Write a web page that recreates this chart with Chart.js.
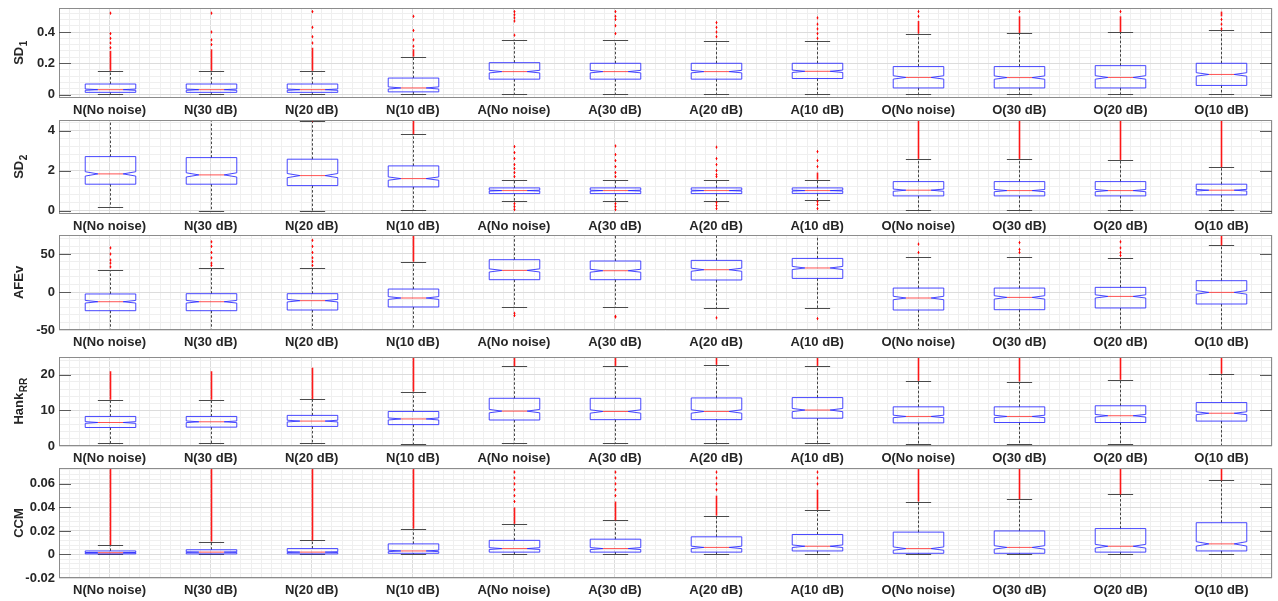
<!DOCTYPE html>
<html>
<head>
<meta charset="utf-8">
<script src="https://cdn.jsdelivr.net/npm/chart.js@4.4.1/dist/chart.umd.min.js"></script>
<style>
  html, body { margin: 0; padding: 0; background: #ffffff; }
  body { position: relative; width: 1278px; height: 601px; overflow: hidden; }
  canvas { position: absolute; left: 0; }
</style>
</head>
<body>
<script>
// Signal groups shown on every panel
const categories = ['N(No noise)', 'N(30 dB)', 'N(20 dB)', 'N(10 dB)',
                    'A(No noise)', 'A(30 dB)', 'A(20 dB)', 'A(10 dB)',
                    'O(No noise)', 'O(30 dB)', 'O(20 dB)', 'O(10 dB)'];
// Records per group (sets the notch height: 1.57 * IQR / sqrt(n))
const groupSize = 400;

// ---- SD1 ----
const sd1Ticks = [0, 0.2, 0.4];
const sd1Q1  = [0.016, 0.016, 0.016, 0.019, 0.100, 0.100, 0.100, 0.104, 0.044, 0.044, 0.044, 0.060];
const sd1Med = [0.033, 0.033, 0.033, 0.044, 0.148, 0.148, 0.148, 0.150, 0.111, 0.110, 0.111, 0.130];
const sd1Q3  = [0.069, 0.069, 0.069, 0.107, 0.205, 0.201, 0.201, 0.201, 0.180, 0.180, 0.186, 0.201];
const sd1Lo  = [0.006, 0.006, 0.006, 0.006, 0.006, 0.006, 0.006, 0.006, 0.006, 0.006, 0.006, 0.006];
const sd1Hi  = [0.153, 0.153, 0.153, 0.243, 0.352, 0.348, 0.340, 0.340, 0.390, 0.394, 0.400, 0.410];
// outliers: single values, or [from, to] for a dense run
const sd1Out = [
  [[0.153, 0.28], 0.30, 0.33, 0.36, 0.39, 0.52],
  [[0.153, 0.29], 0.32, 0.35, 0.40, 0.52],
  [[0.153, 0.30], 0.33, 0.37, 0.43, 0.53],
  [[0.243, 0.29], 0.31, 0.35, 0.41, 0.50],
  [0.38, 0.47, 0.49, 0.51, 0.53],
  [0.39, 0.44, 0.48, 0.50, 0.53],
  [0.37, 0.40, 0.43, 0.46],
  [0.36, 0.39, 0.42, 0.45, 0.49],
  [[0.390, 0.47], 0.50, 0.53],
  [[0.394, 0.50], 0.53],
  [[0.400, 0.50], 0.53],
  [0.42, 0.45, 0.48, [0.50, 0.53]]
];

// ---- SD2 ----
const sd2Ticks = [0, 2, 4];
const sd2Q1  = [1.32, 1.32, 1.25, 1.185, 0.85, 0.85, 0.85, 0.86, 0.735, 0.735, 0.735, 0.785];
const sd2Med = [1.835, 1.785, 1.75, 1.60, 1.0, 1.0, 1.0, 1.0, 1.02, 1.0, 1.0, 1.02];
const sd2Q3  = [2.70, 2.65, 2.57, 2.235, 1.135, 1.135, 1.135, 1.135, 1.45, 1.45, 1.45, 1.32];
const sd2Lo  = [0.185, 0.0, 0.0, 0.02, 0.485, 0.47, 0.485, 0.535, 0.02, 0.02, 0.02, 0.02];
const sd2Hi  = [4.7, 4.7, 4.50, 3.82, 1.535, 1.52, 1.535, 1.52, 2.585, 2.585, 2.535, 2.17];
const sd2Out = [
  [], [], [4.52],
  [[3.82, 4.6]],
  [1.7, 1.9, 2.1, 2.3, 2.6, 2.9, 3.2, 0.35, 0.2, 0.05],
  [1.7, 1.9, 2.2, 2.5, 2.8, 3.23, 0.35, 0.2, 0.05],
  [1.7, 1.8, 2.0, 2.3, 2.6, 3.17, 0.4, 0.25, 0.1],
  [[1.55, 1.9], 2.2, 2.5, 2.95, 0.45, 0.3, 0.1],
  [[2.585, 4.6]], [[2.585, 4.6]], [[2.535, 4.6]], [[2.17, 4.6]]
];

// ---- AFEv ----
const afTicks = [-50, 0, 50];
const afQ1  = [-24.6, -24.6, -23.7, -19.7, 16.2, 16.2, 15.8, 17.9, -23.7, -23.3, -21.0, -15.8];
const afMed = [-12.8, -12.8, -11.4, -7.9, 28.4, 28.0, 29.3, 31.6, -7.9, -7.1, -5.8, -0.5];
const afQ3  = [-2.6, -2.2, -2.2, 3.9, 42.5, 40.8, 41.6, 44.2, 5.2, 5.2, 6.1, 14.9];
const afLo  = [-56, -56, -56, -56, -19.7, -19.7, -21.0, -21.0, -56, -56, -56, -56];
const afHi  = [28.9, 31.6, 31.1, 39.9, 80, 80, 80, 80, 46.0, 46.0, 44.7, 61.2];
const afOut = [
  [33, 38, 42, 50, 58],
  [35, 38, 45, 52, 60, 66],
  [35, 40, 45, 52, 60, 68],
  [[39.9, 76]],
  [-28, -31], [-32, -33], [-34], [-35],
  [52, 63], [52, 56, 65], [48, 52, 58, 66],
  [[61.2, 76]]
];

// ---- HankRR ----
const hkTicks = [0, 10, 20];
const hkQ1  = [5.2, 5.3, 5.5, 6.0, 7.3, 7.4, 7.4, 7.8, 6.5, 6.6, 6.6, 7.0];
const hkMed = [6.6, 6.8, 7.0, 7.6, 9.8, 9.7, 9.7, 10.1, 8.3, 8.3, 8.5, 9.2];
const hkQ3  = [8.3, 8.3, 8.6, 9.7, 13.4, 13.4, 13.5, 13.6, 11.0, 11.0, 11.3, 12.2];
const hkLo  = [0.8, 0.8, 0.8, 0.5, 0.9, 0.9, 0.9, 0.9, 0.5, 0.5, 0.5, 0.3];
const hkHi  = [13.0, 13.0, 13.2, 15.3, 22.4, 22.5, 22.8, 22.5, 18.3, 18.1, 18.6, 20.3];
const hkOut = [
  [[13.0, 21]], [[13.0, 21]], [[13.2, 22]], [[15.3, 25.5]],
  [[22.4, 25.5]], [[22.5, 25.5]], [[22.8, 25.5]], [[22.5, 25.5]],
  [[18.3, 25.5]], [[18.1, 25.5]], [[18.6, 25.5]], [[20.3, 25.5]]
];

// ---- CCM ----
const ccTicks = [-0.02, 0, 0.02, 0.04, 0.06];
const ccQ1  = [0.0005, 0.0005, 0.0005, 0.001, 0.002, 0.002, 0.002, 0.003, 0.001, 0.001, 0.002, 0.003];
const ccMed = [0.0015, 0.002, 0.002, 0.003, 0.005, 0.005, 0.006, 0.007, 0.005, 0.006, 0.007, 0.009];
const ccQ3  = [0.003, 0.004, 0.005, 0.009, 0.012, 0.013, 0.015, 0.017, 0.019, 0.020, 0.022, 0.027];
const ccLo  = [0.0, 0.0, 0.0, 0.0, 0.0, 0.0, 0.0, 0.0, 0.0, 0.0, 0.0, 0.0];
const ccHi  = [0.008, 0.011, 0.012, 0.022, 0.026, 0.029, 0.033, 0.038, 0.045, 0.047, 0.051, 0.063];
const ccOut = [
  [[0.008, 0.076]], [[0.011, 0.076]], [[0.012, 0.076]], [[0.022, 0.076]],
  [[0.026, 0.040], 0.045, 0.05, 0.055, 0.06, 0.065, 0.07],
  [[0.029, 0.045], 0.05, 0.055, 0.06, 0.065, 0.07],
  [[0.033, 0.050], 0.055, 0.06, 0.065, 0.07],
  [[0.038, 0.055], 0.06, 0.065, 0.07],
  [[0.045, 0.076]], [[0.047, 0.076]], [[0.051, 0.076]], [[0.063, 0.076]]
];

// Panel layout (plot-area top/bottom in page pixels) and axis setup
const panels = [
  { title: 'SD', sub: '1',  top: 8,   bottom: 98,  min: -0.02, max: 0.553, major: sd1Ticks, minor: 0.04, q1: sd1Q1, med: sd1Med, q3: sd1Q3, lo: sd1Lo, hi: sd1Hi, out: sd1Out },
  { title: 'SD', sub: '2',  top: 120, bottom: 214, min: -0.17, max: 4.53,  major: sd2Ticks, minor: 0.4,  q1: sd2Q1, med: sd2Med, q3: sd2Q3, lo: sd2Lo, hi: sd2Hi, out: sd2Out },
  { title: 'AFEv', sub: '', top: 235, bottom: 330, min: -50,   max: 75,    major: afTicks,  minor: 10,   q1: afQ1,  med: afMed,  q3: afQ3,  lo: afLo,  hi: afHi,  out: afOut },
  { title: 'Hank', sub: 'RR', top: 357, bottom: 446, min: 0,   max: 25,    major: hkTicks,  minor: 2,    q1: hkQ1,  med: hkMed,  q3: hkQ3,  lo: hkLo,  hi: hkHi,  out: hkOut },
  { title: 'CCM', sub: '',  top: 468, bottom: 578, min: -0.02, max: 0.0735, major: ccTicks, minor: 0.004, q1: ccQ1, med: ccMed, q3: ccQ3,  lo: ccLo,  hi: ccHi,  out: ccOut }
];

const FONT = '"Liberation Sans", Arial, Helvetica, sans-serif';
const PAD_TOP = 8;
const X_AXIS_H = 23;
const Y_AXIS_W = 59;
const CANVAS_W = 1278;

function gridValues(min, max, step) {
  const out = [];
  const k0 = Math.ceil(min / step - 1e-9), k1 = Math.floor(max / step + 1e-9);
  for (let k = k0; k <= k1; k++) out.push(+(k * step).toFixed(10));
  return out;
}
const near = (a, b, eps) => Math.abs(a - b) < eps;

// Box-and-whisker renderer working from each panel's arrays through the chart scales
const boxPlot = {
  id: 'boxPlot',
  afterDatasetsDraw(chart, args, opts) {
    const p = opts.panel;
    const { ctx, chartArea: a } = chart;
    const xs = chart.scales.x, ys = chart.scales.y;
    ctx.save();
    ctx.beginPath();
    ctx.rect(a.left, a.top, a.right - a.left, a.bottom - a.top);
    ctx.clip();
    const halfW = xs.getPixelForValue(1.25) - xs.getPixelForValue(1);
    const capW = halfW / 2;
    categories.forEach((c, i) => {
      const xc = Math.round(xs.getPixelForValue(i + 1)) + 0.5;
      const y1 = ys.getPixelForValue(p.q1[i]);
      const y3 = ys.getPixelForValue(p.q3[i]);
      const ym = ys.getPixelForValue(p.med[i]);
      const notch = 1.57 * (p.q3[i] - p.q1[i]) / Math.sqrt(groupSize);
      const yn1 = ys.getPixelForValue(p.med[i] - notch);
      const yn2 = ys.getPixelForValue(p.med[i] + notch);
      const yLo = ys.getPixelForValue(p.lo[i]);
      const yHi = ys.getPixelForValue(p.hi[i]);
      const xl = xc - halfW, xr = xc + halfW;

      // whiskers (dashed) and caps
      ctx.strokeStyle = '#1a1a1a';
      ctx.lineWidth = 0.8;
      ctx.setLineDash([2.5, 2]);
      ctx.beginPath();
      ctx.moveTo(xc, y3); ctx.lineTo(xc, yHi);
      ctx.moveTo(xc, y1); ctx.lineTo(xc, yLo);
      ctx.stroke();
      ctx.setLineDash([]);
      ctx.strokeStyle = '#4a4a4a';
      ctx.lineWidth = 1;
      ctx.beginPath();
      ctx.moveTo(xc - capW, Math.round(yHi) + 0.5); ctx.lineTo(xc + capW, Math.round(yHi) + 0.5);
      ctx.moveTo(xc - capW, Math.round(yLo) + 0.5); ctx.lineTo(xc + capW, Math.round(yLo) + 0.5);
      ctx.stroke();

      // outliers
      ctx.strokeStyle = 'rgba(255,0,0,0.9)';
      p.out[i].forEach(o => {
        if (Array.isArray(o)) {
          const ya = ys.getPixelForValue(o[0]), yb = ys.getPixelForValue(o[1]);
          ctx.lineWidth = 1.6;
          ctx.beginPath(); ctx.moveTo(xc, ya); ctx.lineTo(xc, yb); ctx.stroke();
        } else {
          const yo = ys.getPixelForValue(o);
          ctx.lineWidth = 1;
          ctx.beginPath();
          ctx.moveTo(xc, yo - 1.5); ctx.lineTo(xc, yo + 1.5);
          ctx.moveTo(xc - 1, yo); ctx.lineTo(xc + 1, yo);
          ctx.stroke();
        }
      });

      // notched box
      ctx.strokeStyle = 'rgba(40,40,255,0.85)';
      ctx.lineWidth = 1;
      ctx.beginPath();
      ctx.moveTo(xl, y3); ctx.lineTo(xr, y3); ctx.lineTo(xr, yn2);
      ctx.lineTo(xr - halfW / 2, ym); ctx.lineTo(xr, yn1); ctx.lineTo(xr, y1);
      ctx.lineTo(xl, y1); ctx.lineTo(xl, yn1); ctx.lineTo(xl + halfW / 2, ym);
      ctx.lineTo(xl, yn2); ctx.closePath();
      ctx.stroke();

      // median
      ctx.strokeStyle = 'rgba(255,40,40,0.8)';
      ctx.beginPath();
      ctx.moveTo(xl + halfW / 2, ym); ctx.lineTo(xr - halfW / 2, ym);
      ctx.stroke();
    });
    ctx.restore();

    // frame and inward tick marks
    ctx.save();
    ctx.strokeStyle = '#8c8c8c';
    ctx.lineWidth = 1;
    ctx.strokeRect(Math.round(a.left) + 0.5, Math.round(a.top) + 0.5,
                   Math.round(a.right - a.left) - 1, Math.round(a.bottom - a.top) - 1);
    ctx.strokeStyle = '#5a5a5a';
    ctx.beginPath();
    p.major.forEach(v => {
      const y = Math.round(ys.getPixelForValue(v)) + 0.5;
      if (y < a.top || y > a.bottom) return;
      ctx.moveTo(a.left, y); ctx.lineTo(a.left + 12, y);
      ctx.moveTo(a.right, y); ctx.lineTo(a.right - 12, y);
    });
    ctx.stroke();
    ctx.restore();
  },
  afterDraw(chart, args, opts) {
    const p = opts.panel;
    const { ctx, chartArea: a } = chart;
    ctx.save();
    const cy = (a.top + a.bottom) / 2;
    ctx.translate(19, cy);
    ctx.rotate(-Math.PI / 2);
    ctx.fillStyle = '#262626';
    ctx.textBaseline = 'middle';
    ctx.font = 'bold 13px ' + FONT;
    const wMain = ctx.measureText(p.title).width;
    ctx.font = 'bold 10px ' + FONT;
    const wSub = p.sub ? ctx.measureText(p.sub).width : 0;
    const x0 = -(wMain + wSub) / 2;
    ctx.font = 'bold 13px ' + FONT;
    ctx.fillText(p.title, x0, 0);
    if (p.sub) {
      ctx.font = 'bold 10px ' + FONT;
      ctx.fillText(p.sub, x0 + wMain + 0.5, 5);
    }
    ctx.restore();
  }
};

const xGrid = gridValues(0.5, 12.5, 0.1);

panels.forEach(p => {
  const canvas = document.createElement('canvas');
  const h = (p.bottom - p.top) + PAD_TOP + X_AXIS_H;
  canvas.width = CANVAS_W;
  canvas.height = h;
  canvas.style.top = (p.top - PAD_TOP) + 'px';
  canvas.style.width = CANVAS_W + 'px';
  canvas.style.height = h + 'px';
  document.body.appendChild(canvas);

  const yGrid = gridValues(p.min, p.max, p.minor);
  const isMajorY = v => p.major.some(m => near(m, v, p.minor * 1e-3));
  const isMajorX = v => near(v, Math.round(v), 1e-6);

  new Chart(canvas, {
    type: 'scatter',
    data: { datasets: [] },
    options: {
      responsive: false,
      animation: false,
      devicePixelRatio: 1,
      layout: { padding: { left: 0, right: 6, top: PAD_TOP, bottom: 0 } },
      plugins: {
        legend: { display: false },
        tooltip: { enabled: false },
        boxPlot: { panel: p }
      },
      scales: {
        x: {
          type: 'linear', min: 0.5, max: 12.5,
          afterBuildTicks: s => { s.ticks = xGrid.map(v => ({ value: v })); },
          afterFit: s => { s.height = X_AXIS_H; s.paddingLeft = 0; s.paddingRight = 0; },
          grid: {
            drawTicks: false,
            lineWidth: 1,
            color: c => (c.tick && isMajorX(c.tick.value)) ? '#dcdcdc' : '#efefef'
          },
          border: { display: false },
          ticks: {
            autoSkip: false, maxRotation: 0, minRotation: 0, padding: 5,
            color: '#262626',
            font: { family: FONT, size: 13, weight: 'bold' },
            callback: v => isMajorX(v) ? categories[Math.round(v) - 1] : ''
          }
        },
        y: {
          type: 'linear', min: p.min, max: p.max,
          afterBuildTicks: s => { s.ticks = yGrid.map(v => ({ value: v })); },
          afterFit: s => { s.width = Y_AXIS_W; s.paddingTop = 0; s.paddingBottom = 0; },
          grid: {
            drawTicks: false,
            lineWidth: 1,
            color: c => (c.tick && isMajorY(c.tick.value)) ? '#dcdcdc' : '#efefef'
          },
          border: { display: false },
          ticks: {
            autoSkip: false, padding: 4,
            color: '#262626',
            font: { family: FONT, size: 13, weight: 'bold' },
            callback: v => isMajorY(v) ? String(+v.toFixed(4)) : ''
          }
        }
      }
    },
    plugins: [boxPlot]
  });
});
</script>
</body>
</html>
